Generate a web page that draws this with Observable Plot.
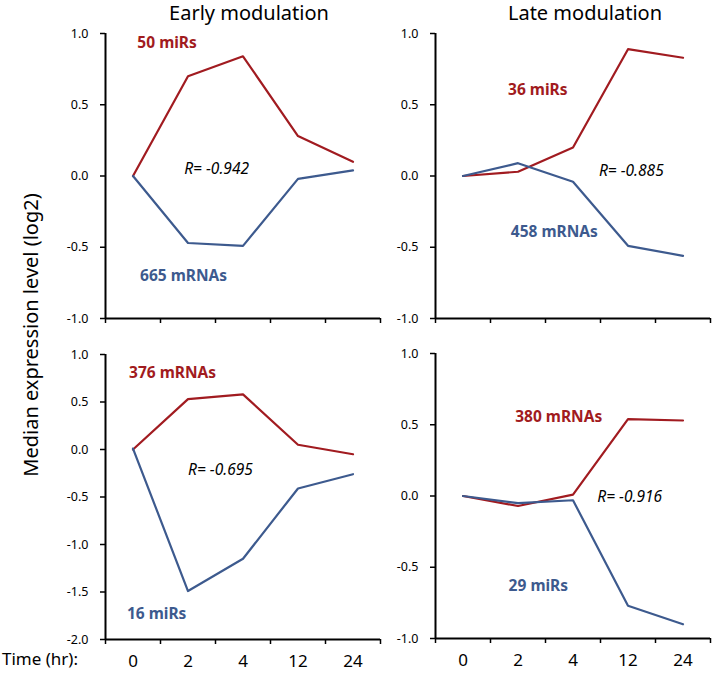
<!DOCTYPE html>
<html>
<head>
<meta charset="utf-8">
<script src="https://cdn.jsdelivr.net/npm/d3@7"></script>
<script src="https://cdn.jsdelivr.net/npm/@observablehq/plot@0.6"></script>
<style>html,body{margin:0;padding:0;background:#fff}</style>
</head>
<body>
<div id="wrap" style="position:relative;width:714px;height:673px;">
  <div style="position:absolute;white-space:nowrap;line-height:1;left:249px;top:3px;transform:translateX(-50%);font-size:20px;font-family:system-ui, sans-serif;">Early modulation</div>
  <div style="position:absolute;white-space:nowrap;line-height:1;left:585px;top:3px;transform:translateX(-50%);font-size:20px;font-family:system-ui, sans-serif;">Late modulation</div>
  <div style="position:absolute;white-space:nowrap;line-height:1;left:31px;top:335px;transform:translate(-50%,-50%) rotate(-90deg);font-size:20px;font-family:system-ui, sans-serif;">Median expression level (log2)</div>
  <div style="position:absolute;white-space:nowrap;line-height:1;left:2px;top:650px;font-size:17px;font-family:system-ui, sans-serif;">Time (hr):</div>
</div>
<script>
// ---- data ----
const times = ["0", "2", "4", "12", "24"];

// Early modulation, top: miRs up / mRNAs down
const earlyTopMiR  = [0, 0.70, 0.84, 0.28, 0.10];
const earlyTopMRNA = [0, -0.47, -0.49, -0.02, 0.04];
// Late modulation, top: miRs up / mRNAs down
const lateTopMiR   = [0, 0.03, 0.20, 0.89, 0.83];
const lateTopMRNA  = [0, 0.09, -0.04, -0.49, -0.56];
// Early modulation, bottom: mRNAs up / miRs down
const earlyBotMRNA = [0, 0.53, 0.58, 0.05, -0.05];
const earlyBotMiR  = [0.01, -1.49, -1.15, -0.41, -0.26];
// Late modulation, bottom: mRNAs up / miRs down
const lateBotMRNA  = [0, -0.07, 0.01, 0.54, 0.53];
const lateBotMiR   = [0, -0.05, -0.03, -0.77, -0.90];

const yTicksTop = [-1, -0.5, 0, 0.5, 1];
const yTicksBL  = [-2, -1.5, -1, -0.5, 0, 0.5, 1];

const RED = "#a11b20";
const BLUE = "#3d5a8e";

function rows(vals) { return vals.map((v, i) => ({x: i + 0.5, y: v})); }

function panel({redVals, blueVals, yDomain, yTicks, boldNotes, italNotes, showX, left, top, marginTop, marginBottom}) {
  const innerW = 275, innerH = 285;
  const marginLeft = 105, marginRight = 5;
  const n = times.length;
  const bounds = d3.range(n + 1);
  const centers = times.map((t, i) => i + 0.5);
  const marks = [
    Plot.axisY({ticks: yTicks, tickFormat: d => d.toFixed(1), tickSize: 5, tickPadding: 12,
                fontSize: 12.5, stroke: "#000", strokeWidth: 1.5, label: null}),
    Plot.axisX({ticks: bounds, tickFormat: () => "", tickSize: 5, stroke: "#000", strokeWidth: 1.5, label: null}),
    showX ? Plot.axisX({ticks: centers, tickFormat: d => times[Math.round(d - 0.5)], tickSize: 0, tickPadding: 15,
                        fontSize: 17, label: null}) : null,
    Plot.ruleX([0], {stroke: "#000", strokeWidth: 2}),
    Plot.ruleY([yDomain[0]], {stroke: "#000", strokeWidth: 2}),
    Plot.line(rows(redVals), {x: "x", y: "y", stroke: RED, strokeWidth: 2.2}),
    Plot.line(rows(blueVals), {x: "x", y: "y", stroke: BLUE, strokeWidth: 2.2}),
    Plot.text(boldNotes, {x: "x", y: "y", text: "text", fill: "fill", fontSize: 15.5,
                          fontWeight: "bold", textAnchor: "middle"}),
    Plot.text(italNotes, {x: "x", y: "y", text: "text", fontSize: 15.5,
                          fontStyle: "italic", textAnchor: "middle"})
  ].filter(Boolean);
  const chart = Plot.plot({
    width: marginLeft + innerW + marginRight,
    height: marginTop + innerH + marginBottom,
    marginLeft, marginRight, marginTop, marginBottom,
    x: {type: "linear", domain: [0, n], axis: null},
    y: {domain: yDomain, axis: null},
    marks
  });
  Object.assign(chart.style, {position: "absolute", left: left + "px", top: top + "px"});
  document.getElementById("wrap").appendChild(chart);
}

panel({
  redVals: earlyTopMiR, blueVals: earlyTopMRNA, yDomain: [-1, 1], yTicks: yTicksTop,
  boldNotes: [{text: "50 miRs", x: 1.12, y: 0.93, fill: RED}, {text: "665 mRNAs", x: 1.42, y: -0.70, fill: BLUE}],
  italNotes: [{text: "R= -0.942", x: 2.02, y: 0.05}],
  showX: false, left: 0, top: 0, marginTop: 33, marginBottom: 12
});
panel({
  redVals: lateTopMiR, blueVals: lateTopMRNA, yDomain: [-1, 1], yTicks: yTicksTop,
  boldNotes: [{text: "36 miRs", x: 1.86, y: 0.60, fill: RED}, {text: "458 mRNAs", x: 2.16, y: -0.39, fill: BLUE}],
  italNotes: [{text: "R= -0.885", x: 3.56, y: 0.035}],
  showX: false, left: 330, top: 0, marginTop: 33, marginBottom: 12
});
panel({
  redVals: earlyBotMRNA, blueVals: earlyBotMiR, yDomain: [-2, 1], yTicks: yTicksBL,
  boldNotes: [{text: "376 mRNAs", x: 1.22, y: 0.81, fill: RED}, {text: "16 miRs", x: 0.93, y: -1.73, fill: BLUE}],
  italNotes: [{text: "R= -0.695", x: 2.09, y: -0.22}],
  showX: true, left: 0, top: 320, marginTop: 34, marginBottom: 34
});
panel({
  redVals: lateBotMRNA, blueVals: lateBotMiR, yDomain: [-1, 1], yTicks: yTicksTop,
  boldNotes: [{text: "380 mRNAs", x: 2.24, y: 0.555, fill: RED}, {text: "29 miRs", x: 1.87, y: -0.635, fill: BLUE}],
  italNotes: [{text: "R= -0.916", x: 3.53, y: -0.007}],
  showX: true, left: 330, top: 320, marginTop: 33, marginBottom: 35
});
</script>
</body>
</html>
